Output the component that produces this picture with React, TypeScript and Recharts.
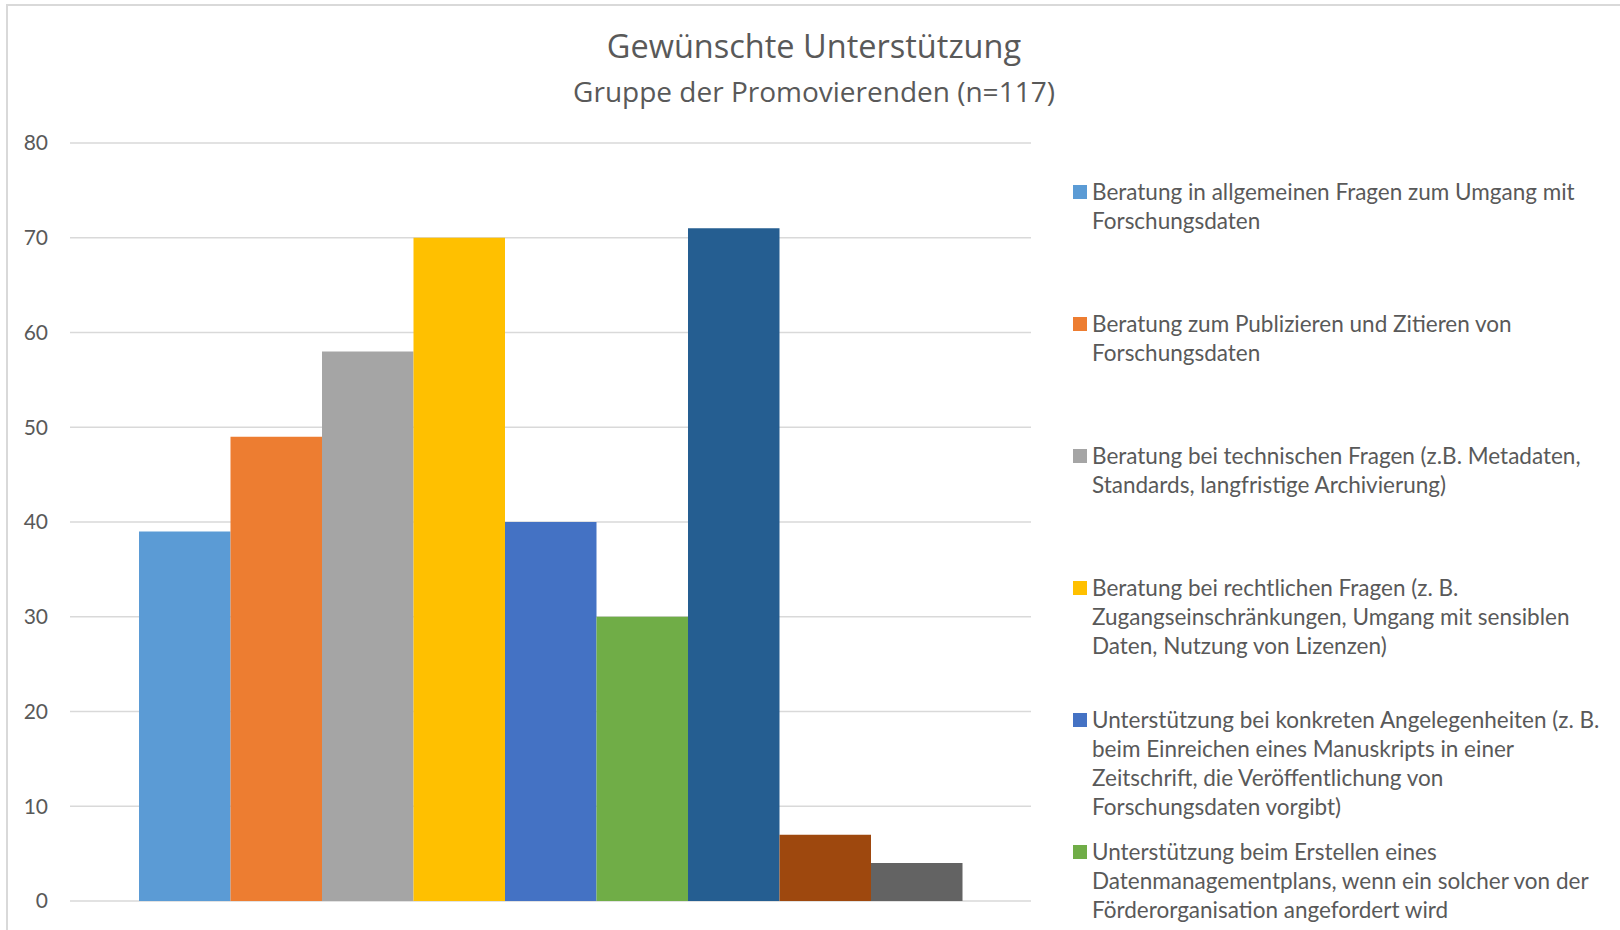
import React from 'react'
import { BarChart, Bar, XAxis, YAxis, CartesianGrid } from 'recharts'

const categories = ['Promovierende']

const seriesNames = [
  'Beratung in allgemeinen Fragen zum Umgang mit\nForschungsdaten',
  'Beratung zum Publizieren und Zitieren von\nForschungsdaten',
  'Beratung bei technischen Fragen (z.B. Metadaten,\nStandards, langfristige Archivierung)',
  'Beratung bei rechtlichen Fragen (z. B.\nZugangseinschränkungen, Umgang mit sensiblen\nDaten, Nutzung von Lizenzen)',
  'Unterstützung bei konkreten Angelegenheiten (z. B.\nbeim Einreichen eines Manuskripts in einer\nZeitschrift, die Veröffentlichung von\nForschungsdaten vorgibt)',
  'Unterstützung beim Erstellen eines\nDatenmanagementplans, wenn ein solcher von der\nFörderorganisation angefordert wird',
  'Schulungen',
  'Sonstiges',
  'Keine',
]

const seriesValues = [39, 49, 58, 70, 40, 30, 71, 7, 4]

const seriesColors = [
  '#5B9BD5', '#ED7D31', '#A5A5A5', '#FFC000', '#4472C4',
  '#70AD47', '#255E91', '#9E480E', '#636363',
]

const yTicks = [0, 10, 20, 30, 40, 50, 60, 70, 80]

const titleText = 'Gewünschte Unterstützung'
const subtitleText = 'Gruppe der Promovierenden (n=117)'

// the legend of the original runs past the bottom of the frame; only these show
const visibleLegendCount = 6

const FONT = 'Lato, "Open Sans", sans-serif'
const TITLE_FONT = '"Open Sans", Lato, sans-serif'
const TEXT = '#595959'

const data = categories.map((name, ci) => {
  const row: Record<string, string | number> = { name }
  seriesValues.forEach((v, i) => {
    row['s' + i] = ci === 0 ? v : 0
  })
  return row
})

export default function App() {
  return (
    <div
      style={{
        position: 'fixed',
        left: 0,
        top: 0,
        width: 1620,
        height: 930,
        overflow: 'hidden',
        background: '#fff',
        fontFamily: FONT,
      }}
    >
      {/* chart frame, only top and left edges are in view */}
      <div
        style={{
          position: 'absolute',
          left: 6,
          top: 4,
          width: 1700,
          height: 1000,
          border: '2px solid #d9d9d9',
          boxSizing: 'border-box',
        }}
      />

      <div
        style={{
          position: 'absolute',
          left: 0,
          top: 30,
          width: 1628,
          textAlign: 'center',
          fontSize: 32.5,
          lineHeight: 1,
          color: TEXT,
          fontFamily: TITLE_FONT,
        }}
      >
        {titleText}
      </div>
      <div
        style={{
          position: 'absolute',
          left: 0,
          top: 77,
          width: 1628,
          textAlign: 'center',
          fontSize: 28,
          lineHeight: 1,
          color: TEXT,
          fontFamily: TITLE_FONT,
        }}
      >
        {subtitleText}
      </div>

      <div style={{ position: 'absolute', left: 0, top: 0 }}>
        <BarChart
          width={1620}
          height={930}
          data={data}
          margin={{ top: 143, right: 589, bottom: 29, left: 0 }}
          barGap={0}
        >
          <CartesianGrid vertical={false} stroke="#d9d9d9" strokeWidth={1.5} />
          <XAxis dataKey="name" hide />
          <YAxis
            width={70}
            domain={[0, 80]}
            ticks={yTicks}
            axisLine={false}
            tickLine={false}
            tickSize={0}
            tickMargin={22}
            tick={{ fontSize: 21, fill: TEXT, fontFamily: FONT }}
          />
          {seriesValues.map((_, i) => (
            <Bar
              key={i}
              dataKey={'s' + i}
              name={seriesNames[i]}
              fill={seriesColors[i]}
              barSize={91.5}
              isAnimationActive={false}
            />
          ))}
        </BarChart>
      </div>

      {/* legend */}
      <div style={{ position: 'absolute', left: 1073, top: 176.5, width: 545 }}>
        {seriesNames.slice(0, visibleLegendCount).map((label, i) => (
          <div key={i} style={{ height: 132, display: 'flex', alignItems: 'flex-start' }}>
            <div
              style={{
                width: 14,
                height: 14,
                marginTop: 8,
                marginRight: 5,
                background: seriesColors[i],
                flex: '0 0 auto',
              }}
            />
            <div
              style={{
                fontSize: 22.5,
                lineHeight: '29px',
                color: TEXT,
                whiteSpace: 'pre-line',
              }}
            >
              {label}
            </div>
          </div>
        ))}
      </div>
    </div>
  )
}
